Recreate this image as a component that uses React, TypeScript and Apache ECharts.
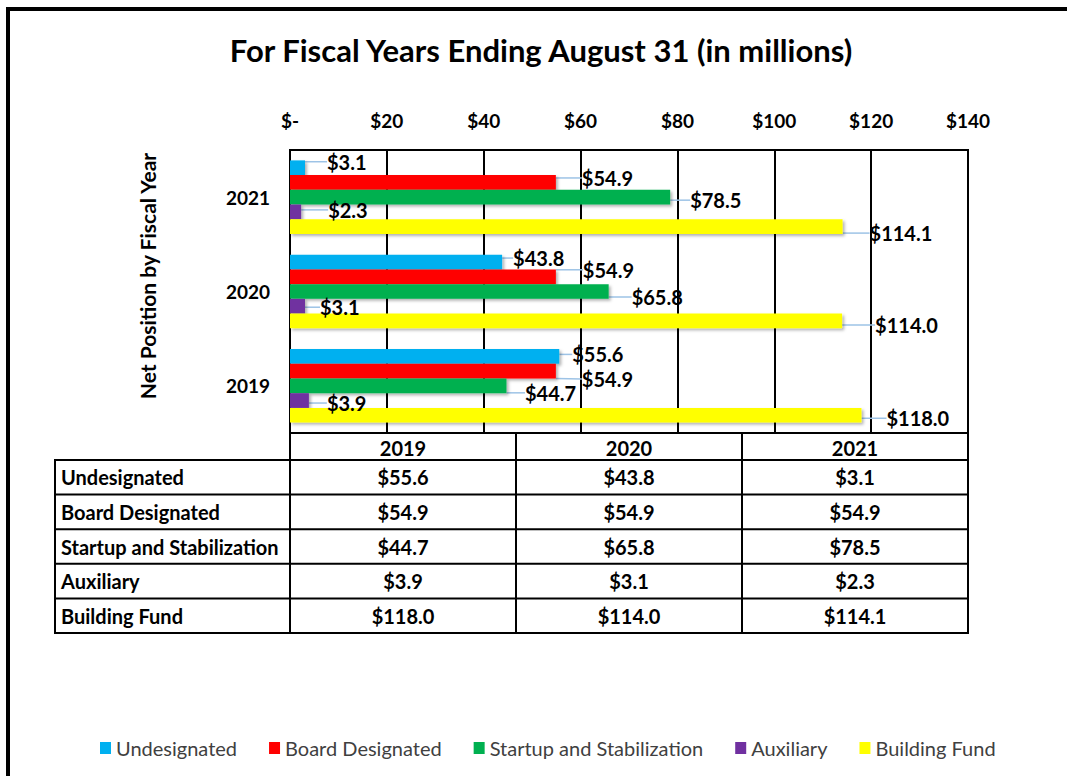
import React, { useEffect, useRef } from "react";
import * as echarts from "echarts";

const years = ["2019", "2020", "2021"];
const seriesNames = [
  "Undesignated",
  "Board Designated",
  "Startup and Stabilization",
  "Auxiliary",
  "Building Fund",
];
const undesignated = [55.6, 43.8, 3.1];
const boardDesignated = [54.9, 54.9, 54.9];
const startupStabilization = [44.7, 65.8, 78.5];
const auxiliary = [3.9, 3.1, 2.3];
const buildingFund = [118.0, 114.0, 114.1];
const seriesValues = [undesignated, boardDesignated, startupStabilization, auxiliary, buildingFund];
const colors = ["#00B0F0", "#FF0000", "#00B050", "#7030A0", "#FFFF00"];
const axisMin = 0;
const axisMax = 140;
const axisStep = 20;
const titleText = "For Fiscal Years Ending August 31 (in millions)";
const yAxisTitle = "Net Position by Fiscal Year";

// label displacement (dx, dy) from the bar end, per series, per year
const labelOffsets = [
  [[13, -2], [11, -4], [22, -6]],
  [[26, 8], [27, -7], [26, -4.5]],
  [[18.5, 7], [23, 5.5], [20, 3]],
  [[18, 2.5], [15, 1], [27, -2]],
  [[25, 3], [33, 4], [27, 6.5]],
];

const FONT = "Lato";
const money = (v: number) => "$" + v.toFixed(1);

// layout
const plotLeft = 290;
const plotRight = 968;
const plotTop = 150;
const plotBottom = 433;
const tableHeaderBottom = 460;
const tableBottom = 633;
const tableLeft = 55;

function buildTable() {
  const els: any[] = [];
  const line = (x1: number, y1: number, x2: number, y2: number, w = 2) => ({
    type: "line",
    shape: { x1, y1, x2, y2 },
    style: { stroke: "#000", lineWidth: w },
    z: 10,
  });
  const colW = (plotRight - plotLeft) / years.length;
  const rowH = (tableBottom - tableHeaderBottom) / seriesNames.length;
  els.push(line(tableLeft, tableHeaderBottom - 1, tableLeft, tableBottom + 1));
  for (let i = 0; i <= years.length; i++) {
    const x = plotLeft + i * colW;
    els.push(line(x, plotBottom, x, tableBottom + 1));
  }
  els.push(line(plotLeft, plotBottom, plotRight, plotBottom));
  for (let r = 0; r <= seriesNames.length; r++) {
    const y = tableHeaderBottom + r * rowH;
    els.push(line(tableLeft - 1, y, plotRight + 1, y));
  }
  const ts = (text: string, align: string) => ({
    text,
    fontFamily: FONT,
    fontWeight: "bold",
    fontSize: 20,
    fill: "#000",
    textAlign: align,
    textVerticalAlign: "middle",
  });
  years.forEach((yr, i) => {
    els.push({
      type: "text",
      x: plotLeft + (i + 0.5) * colW,
      y: (plotBottom + tableHeaderBottom) / 2 + 1,
      style: ts(yr, "center"),
      z: 11,
    });
  });
  seriesNames.forEach((name, r) => {
    const cy = tableHeaderBottom + (r + 0.5) * rowH;
    els.push({ type: "text", x: tableLeft + 6, y: cy, style: ts(name, "left"), z: 11 });
    years.forEach((_, i) => {
      els.push({
        type: "text",
        x: plotLeft + (i + 0.5) * colW,
        y: cy,
        style: ts(money(seriesValues[r][i]), "center"),
        z: 11,
      });
    });
  });
  return els;
}

export default function App() {
  const ref = useRef<HTMLDivElement>(null);
  useEffect(() => {
    if (!ref.current) return;
    const chart = echarts.init(ref.current, undefined, { renderer: "svg" });
    const option: any = {
      animation: false,
      backgroundColor: "#fff",
      color: colors,
      grid: {
        left: plotLeft,
        top: plotTop,
        width: plotRight - plotLeft,
        height: plotBottom - plotTop,
        show: true,
        borderColor: "#000",
        borderWidth: 2,
        backgroundColor: "transparent",
      },
      xAxis: {
        type: "value",
        position: "top",
        min: axisMin,
        max: axisMax,
        interval: axisStep,
        axisLine: { show: false },
        axisTick: { show: false },
        splitLine: { show: true, lineStyle: { color: "#000", width: 2 } },
        axisLabel: {
          margin: 20,
          fontFamily: FONT,
          fontWeight: "bold",
          fontSize: 19,
          color: "#000",
          formatter: (v: number) => (v === 0 ? "$-" : "$" + v),
        },
      },
      yAxis: {
        type: "category",
        data: years,
        axisLine: { show: false },
        axisTick: { show: false },
        axisLabel: { margin: 20, fontFamily: FONT, fontWeight: "bold", fontSize: 19, color: "#000" },
      },
      legend: {
        left: 95,
        top: 733,
        itemWidth: 11,
        itemHeight: 12,
        itemGap: 32,
        icon: "rect",
        textStyle: { fontFamily: FONT, fontSize: 20, color: "#404040" },
        data: seriesNames,
      },
      series: seriesNames.map((name, si) => ({
        type: "bar",
        name,
        data: seriesValues[si],
        barGap: "0%",
        barCategoryGap: "22%",
        itemStyle: {
          color: colors[si],
          shadowColor: "rgba(0,0,0,0.3)",
          shadowBlur: 3,
          shadowOffsetX: 2,
          shadowOffsetY: 2,
        },
        label: {
          show: true,
          position: "right",
          distance: 0,
          fontFamily: FONT,
          fontWeight: "bold",
          fontSize: 20,
          lineHeight: 20,
          color: "#000",
          formatter: (p: any) => money(p.value),
        },
        labelLine: { show: true, lineStyle: { color: "#9DC3E6", width: 1.5 } },
        labelLayout: (p: any) => {
          const o = labelOffsets[p.seriesIndex][p.dataIndex];
          return { dx: o[0], dy: o[1] };
        },
      })),
      graphic: [
        {
          type: "line",
          shape: { x1: 8, y1: 9, x2: 8, y2: 776 },
          style: { stroke: "#000", lineWidth: 4 },
        },
        {
          type: "line",
          shape: { x1: 6, y1: 9, x2: 1067, y2: 9 },
          style: { stroke: "#000", lineWidth: 4 },
        },
        {
          type: "text",
          x: 541,
          y: 50,
          style: { text: titleText, fontFamily: FONT, fontWeight: "bold", fontSize: 31, fill: "#000", textAlign: "center", textVerticalAlign: "middle" },
        },
        {
          type: "text",
          x: 147,
          y: 276,
          rotation: Math.PI / 2,
          style: { text: yAxisTitle, fontFamily: FONT, fontWeight: "bold", fontSize: 21, fill: "#000", textAlign: "center", textVerticalAlign: "middle" },
        },
        ...buildTable(),
      ],
    };
    chart.setOption(option);
    return () => chart.dispose();
  }, []);
  return (
    <div
      ref={ref}
      style={{ position: "fixed", left: 0, top: 0, width: 1067, height: 776, background: "#fff" }}
    />
  );
}
